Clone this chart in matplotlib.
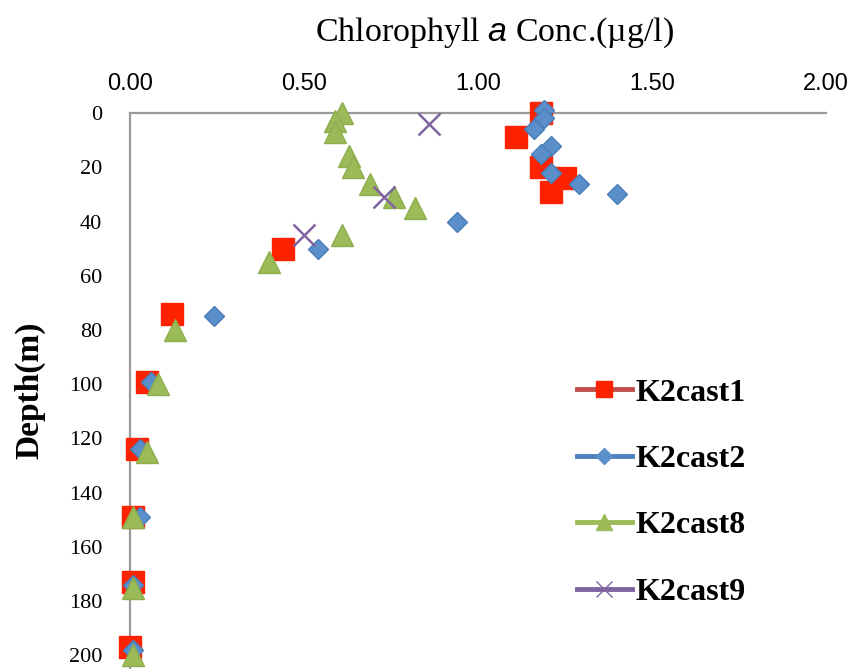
import matplotlib.pyplot as plt
from matplotlib.lines import Line2D

plt.rcParams['mathtext.fontset'] = 'custom'
plt.rcParams['mathtext.rm'] = 'Liberation Serif'
plt.rcParams['mathtext.it'] = 'Liberation Sans:italic'

# chlorophyll a (ug/l) and depth (m) for each cast
cast1_chl = [1.18, 1.11, 1.18, 1.25, 1.21, 0.44, 0.12, 0.05, 0.02, 0.01, 0.01, 0.00]
cast1_dep = [0, 9, 20, 24, 29, 50, 74, 99, 124, 149, 173, 197]

cast2_chl = [1.19, 1.19, 1.16, 1.21, 1.18, 1.21, 1.29, 1.40, 0.94, 0.54, 0.24, 0.06, 0.03, 0.03, 0.01, 0.01]
cast2_dep = [-1, 2, 6, 12, 15, 22, 26, 30, 40, 50, 75, 99, 124, 149, 174, 198]

cast8_chl = [0.61, 0.59, 0.59, 0.63, 0.64, 0.69, 0.76, 0.82, 0.61, 0.40, 0.13, 0.08, 0.05, 0.01, 0.01, 0.01]
cast8_dep = [0, 3, 7, 16, 20, 26, 31, 35, 45, 55, 80, 100, 125, 149, 175, 200]

cast9_chl = [0.86, 0.73, 0.50]
cast9_dep = [4, 31, 45]

x_ticks = [0.0, 0.5, 1.0, 1.5, 2.0]
y_ticks = [0, 20, 40, 60, 80, 100, 120, 140, 160, 180, 200]

red = '#FF2200'
blue = '#5B8FC9'
green = '#9BBB59'
purple = '#8064A2'

fig = plt.figure(figsize=(8.53, 6.69), dpi=100)
ax = fig.add_axes([0.1524, 0.0, 0.8159, 0.831])

ax.plot(cast1_chl, cast1_dep, 's', color=red, ms=16, mec=red, clip_on=False, zorder=3)
ax.plot(cast2_chl, cast2_dep, 'D', color=blue, ms=10.5, mec='#4A7EBB', clip_on=False, zorder=4)
ax.plot(cast8_chl, cast8_dep, '^', color=green, ms=16, mec='#8DAD4E', clip_on=False, zorder=5)
ax.plot(cast9_chl, cast9_dep, 'x', color=purple, ms=16, mew=1.8, clip_on=False, zorder=6)

ax.set_xlim(0, 2)
ax.set_ylim(205, 0)
ax.xaxis.tick_top()
ax.set_xticks(x_ticks)
ax.set_xticklabels([f'{v:.2f}' for v in x_ticks], family='Liberation Sans', fontsize=17)
ax.set_yticks(y_ticks)
ax.set_yticklabels([str(v) for v in y_ticks], family='Liberation Serif', fontsize=16)
ax.tick_params(axis='x', length=0, pad=13)
ax.tick_params(axis='y', length=0, pad=20)

for side in ['right', 'bottom']:
    ax.spines[side].set_visible(False)
for side in ['top', 'left']:
    ax.spines[side].set_color('#9A9A9A')
    ax.spines[side].set_linewidth(1.6)

fig.text(0.58, 0.951, r'Chlorophyll $\mathit{a}$ Conc.(µg/l)', family='Liberation Serif',
         fontsize=24.5, ha='center', va='center')
fig.text(0.035, 0.417, 'Depth(m)', family='Liberation Serif', fontweight='bold',
         fontsize=24, rotation=90, ha='center', va='center')

handles = [
    Line2D([], [], color='#C0504D', lw=3.5, marker='s', ms=12, mfc=red, mec=red),
    Line2D([], [], color='#4F81BD', lw=3.5, marker='D', ms=8, mfc=blue, mec=blue),
    Line2D([], [], color=green, lw=3.5, marker='^', ms=11, mfc=green, mec=green),
    Line2D([], [], color=purple, lw=3.5, marker='x', ms=11, mew=1, mec=purple),
]
labels = ['K2cast1', 'K2cast2', 'K2cast8', 'K2cast9']
ax.legend(handles, labels, loc='upper left', bbox_to_anchor=(0.642, 0.523),
          frameon=False, prop={'family': 'Liberation Serif', 'weight': 'bold', 'size': 23},
          handlelength=1.72, handletextpad=0.12, labelspacing=1.16, borderpad=0,
          borderaxespad=0)

fig.savefig('out.png', dpi=100)
